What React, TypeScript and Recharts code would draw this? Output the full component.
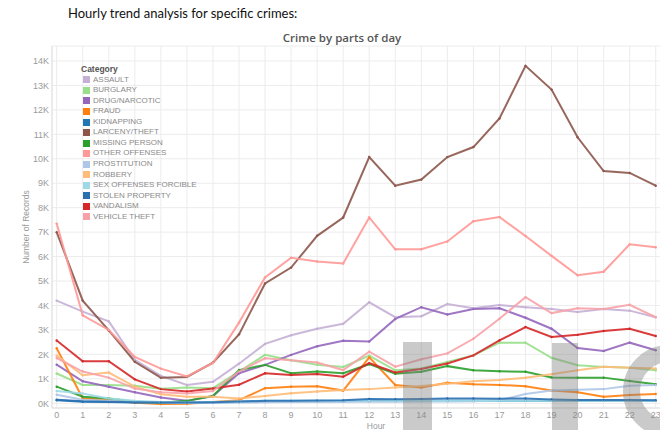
import { LineChart, Line, XAxis, YAxis, CartesianGrid } from "recharts"

const hours = [0, 1, 2, 3, 4, 5, 6, 7, 8, 9, 10, 11, 12, 13, 14, 15, 16, 17, 18, 19, 20, 21, 22, 23]
const hourTicks = hours
const recordTicks = [0, 1000, 2000, 3000, 4000, 5000, 6000, 7000, 8000, 9000, 10000, 11000, 12000, 13000, 14000]

const categories = [
  "ASSAULT",
  "BURGLARY",
  "DRUG/NARCOTIC",
  "FRAUD",
  "KIDNAPPING",
  "LARCENY/THEFT",
  "MISSING PERSON",
  "OTHER OFFENSES",
  "PROSTITUTION",
  "ROBBERY",
  "SEX OFFENSES FORCIBLE",
  "STOLEN PROPERTY",
  "VANDALISM",
  "VEHICLE THEFT",
]

const colors = [
  "#c5b0d5",
  "#98df8a",
  "#9467bd",
  "#ff7f0e",
  "#1f77b4",
  "#8c564b",
  "#2ca02c",
  "#ff9896",
  "#aec7e8",
  "#ffbb78",
  "#9edae5",
  "#2a6fb0",
  "#d62728",
  "#f7a2a8",
]

const assault = [4200, 3750, 3350, 1780, 1120, 750, 880, 1620, 2430, 2780, 3050, 3250, 4130, 3520, 3560, 4060, 3890, 4020, 3930, 3860, 3730, 3860, 3790, 3520]
const burglary = [1220, 750, 750, 720, 600, 650, 620, 1300, 1980, 1760, 1580, 1490, 1950, 1350, 1420, 1690, 1960, 2480, 2480, 1860, 1560, 1490, 1450, 1350]
const drugNarcotic = [1580, 900, 680, 450, 240, 100, 300, 1230, 1570, 1980, 2330, 2560, 2530, 3450, 3930, 3630, 3860, 3890, 3500, 3050, 2260, 2140, 2480, 2170]
const fraud = [2250, 200, 150, 20, -30, -20, 50, 130, 620, 680, 700, 520, 1880, 750, 650, 840, 780, 750, 700, 520, 450, 270, 340, 380]
const kidnapping = [120, 60, 50, 30, 20, 20, 30, 50, 70, 70, 80, 80, 100, 100, 100, 100, 100, 100, 100, 100, 100, 100, 100, 100]
const larcenyTheft = [7000, 4200, 2980, 1700, 1050, 1080, 1660, 2820, 4900, 5550, 6850, 7600, 10070, 8900, 9150, 10070, 10480, 11650, 13800, 12830, 10880, 9500, 9420, 8900]
const missingPerson = [680, 270, 200, 60, 20, 100, 300, 1360, 1570, 1230, 1300, 1230, 1600, 1210, 1290, 1520, 1350, 1310, 1290, 1060, 1050, 1050, 910, 780]
const otherOffenses = [7350, 3600, 3000, 1900, 1420, 1100, 1650, 3300, 5150, 5950, 5800, 5720, 7600, 6300, 6300, 6620, 7450, 7620, 6840, 6030, 5240, 5380, 6500, 6380]
const prostitution = [350, 150, 100, 50, 30, 20, 20, 30, 40, 50, 50, 60, 60, 60, 70, 70, 80, 120, 380, 520, 550, 580, 720, 750]
const robbery = [1950, 1150, 1260, 680, 370, 270, 270, 200, 300, 410, 480, 540, 580, 650, 710, 800, 900, 950, 1050, 1190, 1350, 1490, 1450, 1420]
const sexOffenses = [500, 400, 200, 100, 50, 30, 50, 80, 100, 100, 100, 100, 120, 100, 100, 100, 100, 100, 100, 100, 100, 100, 100, 100]
const stolenProperty = [150, 80, 60, 40, 30, 30, 40, 70, 100, 100, 110, 120, 180, 170, 180, 200, 200, 190, 200, 160, 140, 140, 140, 130]
const vandalism = [2570, 1720, 1720, 980, 580, 480, 610, 760, 1230, 1160, 1200, 1090, 1640, 1260, 1400, 1630, 1960, 2570, 3120, 2710, 2800, 2960, 3050, 2750]
const vehicleTheft = [1850, 1300, 1050, 600, 450, 400, 500, 1300, 1840, 1760, 1670, 1360, 2110, 1500, 1800, 2040, 2640, 3460, 4340, 3690, 3890, 3860, 4030, 3520]

const seriesValues = [
  assault,
  burglary,
  drugNarcotic,
  fraud,
  kidnapping,
  larcenyTheft,
  missingPerson,
  otherOffenses,
  prostitution,
  robbery,
  sexOffenses,
  stolenProperty,
  vandalism,
  vehicleTheft,
]

const data = hours.map((h, i) => {
  const row: Record<string, number> = { hour: h }
  categories.forEach((c, k) => {
    row[c] = seriesValues[k][i]
  })
  return row
})

const FONT = '"Liberation Sans", Arial, sans-serif'

function CategoryLegend() {
  return (
    <div
      style={{
        position: "absolute",
        left: 81,
        top: 64,
        fontFamily: FONT,
        fontSize: 8,
        color: "#8a8a8a",
        lineHeight: "10.6px",
      }}
    >
      <div style={{ fontWeight: "bold", color: "#555", fontSize: 8.5 }}>Category</div>
      {categories.map((c, i) => (
        <div key={c} style={{ display: "flex", alignItems: "center", height: 10.55 }}>
          <span
            style={{
              display: "inline-block",
              width: 7,
              height: 7,
              background: colors[i],
              marginRight: 3,
              marginLeft: 2,
            }}
          />
          {c}
        </div>
      ))}
    </div>
  )
}

export default function App() {
  return (
    <div
      style={{
        position: "absolute",
        left: 0,
        top: 0,
        width: 660,
        height: 430,
        overflow: "hidden",
        background: "#fff",
      }}
    >
      <div
        style={{
          position: "absolute",
          left: 68,
          top: 5,
          fontFamily: "Lato, 'Open Sans', sans-serif",
          fontSize: 13,
          color: "#111",
        }}
      >
        Hourly trend analysis for specific crimes:
      </div>
      <div
        style={{
          position: "absolute",
          left: 0,
          width: 684,
          top: 30,
          textAlign: "center",
          fontFamily: '"Open Sans", sans-serif',
          fontSize: 11.5,
          fontWeight: 600,
          color: "#555",
        }}
      >
        Crime by parts of day
      </div>

      <div style={{ position: "absolute", left: 0, top: 0 }}>
        <LineChart
          width={700}
          height={430}
          data={data}
          margin={{ top: 46, right: 0, bottom: 0, left: 0 }}
        >
          <CartesianGrid stroke="#ececec" strokeWidth={1} />
          <XAxis
            dataKey="hour"
            type="number"
            domain={[-0.18, 24.7]}
            allowDataOverflow
            ticks={hourTicks}
            interval={0}
            height={22}
            tickSize={0}
            tickMargin={4}
            axisLine={{ stroke: "#e0e0e0" }}
            tick={{ fontSize: 9, fill: "#9a9a9a", fontFamily: FONT }}
            label={{
              value: "Hour",
              position: "insideBottom",
              offset: 1,
              style: { fontSize: 8.5, fill: "#9a9a9a", fontFamily: FONT },
            }}
          />
          <YAxis
            type="number"
            domain={[-192, 14613]}
            allowDataOverflow
            ticks={recordTicks}
            width={52}
            tickSize={0}
            tickMargin={3}
            axisLine={{ stroke: "#e0e0e0" }}
            tickFormatter={(v: number) => `${v / 1000}K`}
            tick={{ fontSize: 9, fill: "#9a9a9a", fontFamily: FONT }}
            label={{
              value: "Number of Records",
              angle: -90,
              position: "insideLeft",
              offset: 26,
              style: { fontSize: 8.5, fill: "#9a9a9a", fontFamily: FONT, textAnchor: "middle" },
            }}
          />
          {categories.map((c, i) => (
            <Line
              key={c}
              type="linear"
              dataKey={c}
              stroke={colors[i]}
              strokeWidth={2}
              strokeOpacity={0.9}
              dot={{ r: 1.2, strokeWidth: 0, fill: colors[i] }}
              activeDot={false}
              isAnimationActive={false}
            />
          ))}
        </LineChart>
      </div>

      <CategoryLegend />

      {/* faint grey watermark shapes sitting over the bottom right */}
      <div style={{ position: "absolute", left: 403, top: 342, width: 29, height: 90, background: "rgba(128,128,128,0.42)" }} />
      <div style={{ position: "absolute", left: 552, top: 343, width: 26, height: 90, background: "rgba(128,128,128,0.42)" }} />
      <div
        style={{
          position: "absolute",
          left: 623,
          top: 345,
          width: 92,
          height: 92,
          boxSizing: "border-box",
          borderRadius: "50%",
          border: "17px solid rgba(128,128,128,0.42)",
        }}
      />
    </div>
  )
}
